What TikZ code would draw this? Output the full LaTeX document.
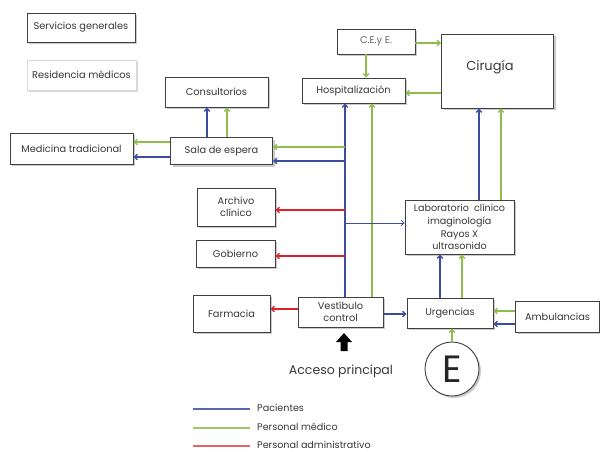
\documentclass[tikz,border=0pt]{standalone}
\usepackage{fontspec}
\setmainfont{Poppins}
\usetikzlibrary{arrows.meta,shadows}
\definecolor{pblue}{HTML}{3A4DA0}
\definecolor{pgreen}{HTML}{8DBE4C}
\definecolor{pred}{HTML}{E0202A}
\definecolor{txt}{HTML}{383838}
\begin{document}
\begin{tikzpicture}[x=1pt,y=-1pt,
  box/.style={draw=black!75, line width=0.9pt, fill=white, text=txt, align=center, inner sep=0pt,
    font=\fontsize{9.8}{12}\selectfont,
    drop shadow={shadow xshift=2pt, shadow yshift=-2pt, fill=black!40}},
  lbox/.style={box, draw=black!15, drop shadow={shadow xshift=2pt, shadow yshift=-2pt, fill=black!12}},
  tip/.style={-{Straight Barb[length=3pt,width=5.5pt]}},
  bl/.style={pblue, line width=1.3pt, tip},
  gr/.style={pgreen, line width=1.3pt, tip},
  rd/.style={pred, line width=1.3pt, tip},
  leg/.style={line width=1.2pt},
  legt/.style={text=txt, font=\fontsize{9.6}{11}\selectfont, anchor=west, inner sep=0pt}
]
\useasboundingbox (0,0) rectangle (600,451);
\fill[white] (0,0) rectangle (600,451);

% boxes
\node[box, minimum width=108pt, minimum height=29pt] (sg) at (81,27.5) {Servicios generales};
\node[lbox, minimum width=109pt, minimum height=30pt] (rm) at (81.5,75) {Residencia médicos};
\node[box, minimum width=103pt, minimum height=30pt] (cons) at (216.5,92) {Consultorios};
\node[box, minimum width=78pt, minimum height=25pt, text=black!60] (cey) at (376,41.5) {C.E.y E.};
\node[box, minimum width=112pt, minimum height=74pt] (cir) at (497.5,71) {};
\node[text=txt, font=\fontsize{13}{15}\selectfont, inner sep=0pt] (cirl) at (490,67) {Cirugía};
\node[box, minimum width=103pt, minimum height=25pt] (hosp) at (353.5,90.5) {Hospitalización};
\node[box, minimum width=123pt, minimum height=31pt] (med) at (71.5,148.5) {Medicina tradicional};
\node[box, minimum width=102pt, minimum height=27pt] (sala) at (221.5,151) {Sala de espera};
\node[box, minimum width=78pt, minimum height=38pt] (arch) at (236,207) {Archivo\\clínico};
\node[box, minimum width=79pt, minimum height=27pt] (gob) at (235.5,253.5) {Gobierno};
\node[box, minimum width=77pt, minimum height=37pt] (farm) at (231.5,313.5) {Farmacia};
\node[box, minimum width=85pt, minimum height=30pt] (vest) at (340.5,312) {Vestíbulo\\control};
\node[box, minimum width=86pt, minimum height=30pt] (urg) at (450,313) {Urgencias};
\node[box, minimum width=84pt, minimum height=31pt] (amb) at (557.5,316.5) {Ambulancias};
\node[box, minimum width=109pt, minimum height=54pt, font=\fontsize{9.6}{12.8}\selectfont] (lab) at (459.5,227) {Laboratorio\ \ clínico\\imaginología\\Rayos X\\ultrasonido};
\node[box, circle, minimum size=54pt, font=\fontsize{38}{40}\selectfont, text=black!85] (E) at (452,369) {E};

% trunk coordinates
\coordinate (tb) at (345,0);
\coordinate (tg) at (372,0);

\draw[bl] (vest.north -| tb) -- (hosp.south -| tb);
\draw[gr] (vest.north -| tg) -- (hosp.south -| tg);

\coordinate (b1) at (345,147);
\coordinate (b2) at (345,161);
\coordinate (b3) at (345,210);
\coordinate (b4) at (345,223);
\coordinate (b5) at (345,256);
\draw[gr] (b1) -- (b1 -| sala.east);
\draw[bl] (b2) -- (b2 -| sala.east);
\draw[rd] (b3) -- (b3 -| arch.east);
\draw[pblue, line width=0.7pt, tip] (b4) -- (b4 -| lab.west);
\draw[rd] (b5) -- (b5 -| gob.east);

\coordinate (yv1) at (0,309);
\coordinate (yv2) at (0,314);
\draw[rd] (vest.west |- yv1) -- (farm.east |- yv1);
\draw[bl] (vest.east |- yv2) -- (urg.west |- yv2);

\coordinate (xu1) at (440,0);
\coordinate (xu2) at (462,0);
\draw[bl] (urg.north -| xu1) -- (lab.south -| xu1);
\draw[gr] (urg.north -| xu2) -- (lab.south -| xu2);

\coordinate (xl1) at (479,0);
\coordinate (xl2) at (501,0);
\draw[bl] (lab.north -| xl1) -- (cir.south -| xl1);
\draw[gr] (lab.north -| xl2) -- (cir.south -| xl2);

\coordinate (ya1) at (0,311);
\coordinate (ya2) at (0,324);
\draw[gr] (amb.west |- ya1) -- (urg.east |- ya1);
\draw[bl] (amb.west |- ya2) -- (urg.east |- ya2);

\draw[gr] (E.north) -- (urg.south -| E.north);

\coordinate (xc) at (366,0);
\draw[gr] (cey.south -| xc) -- (hosp.north -| xc);
\coordinate (yc) at (0,43);
\draw[gr] (cey.east |- yc) -- (cir.west |- yc);
\coordinate (yh) at (0,93);
\draw[gr] (cir.west |- yh) -- (hosp.east |- yh);

\coordinate (xs1) at (207,0);
\coordinate (xs2) at (227,0);
\draw[bl] (sala.north -| xs1) -- (cons.south -| xs1);
\draw[gr] (sala.north -| xs2) -- (cons.south -| xs2);

\coordinate (ym1) at (0,142);
\coordinate (ym2) at (0,157);
\draw[gr] (sala.west |- ym1) -- (med.east |- ym1);
\draw[bl] (sala.west |- ym2) -- (med.east |- ym2);

% main access arrow
\fill[black] (340.5,351) -- (340.5,342) -- (336,342) -- (344,333) -- (352,342) -- (347.5,342) -- (347.5,351) -- cycle;
\node[text=txt, font=\fontsize{12.5}{14}\selectfont, inner sep=0pt] (acc) at (341,371) {Acceso principal};

% legend
\coordinate (l1a) at (193,409); \coordinate (l1b) at (250,409);
\coordinate (l2a) at (193,428); \coordinate (l2b) at (250,428);
\coordinate (l3a) at (193,446); \coordinate (l3b) at (250,446);
\draw[leg, pblue!85] (l1a) -- (l1b);
\draw[leg, pgreen!85] (l2a) -- (l2b);
\draw[leg, pred!70] (l3a) -- (l3b);
\node[legt] (lt1) at (257,408) {Pacientes};
\node[legt] (lt2) at (257,427) {Personal médico};
\node[legt] (lt3) at (257,445) {Personal administrativo};
\end{tikzpicture}
\end{document}
